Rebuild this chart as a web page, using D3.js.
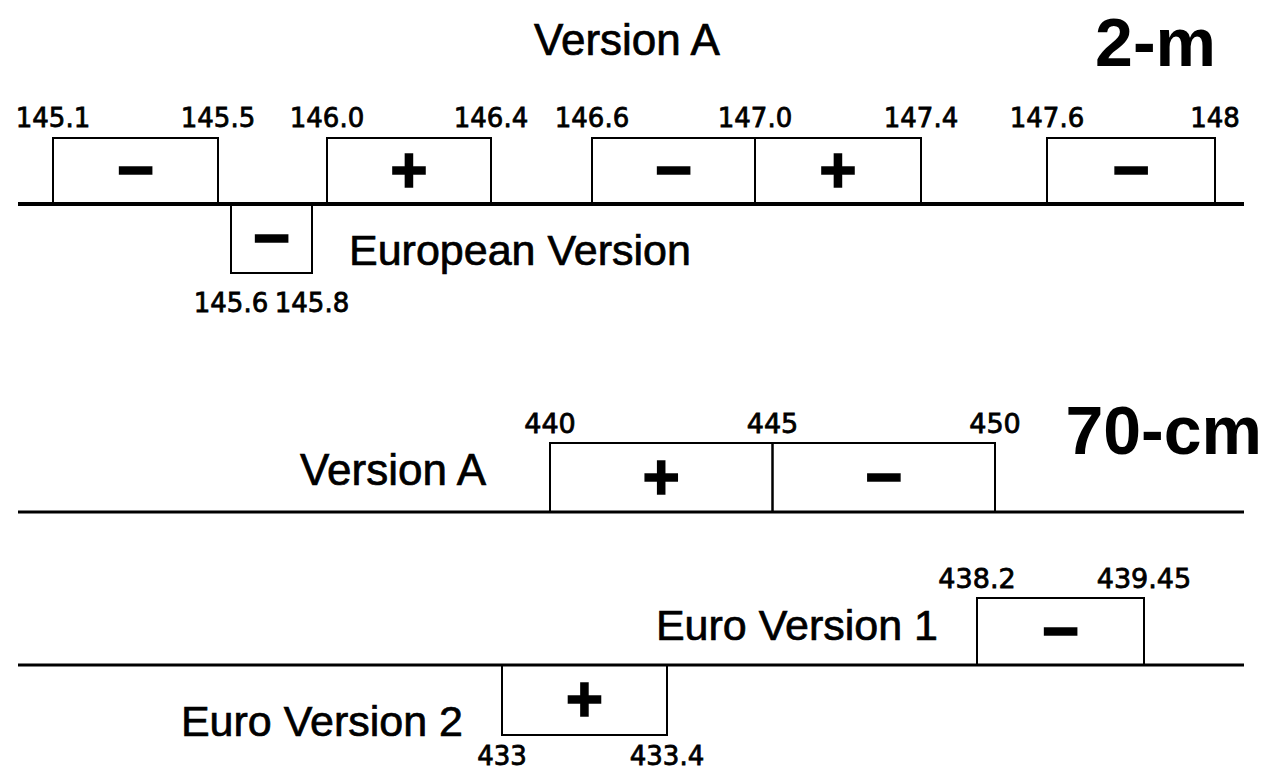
<!DOCTYPE html>
<html>
<head>
<meta charset="utf-8">
<script src="https://cdn.jsdelivr.net/npm/d3@7"></script>
<style>
  html, body { margin: 0; padding: 0; background: #fff; }
  svg { display: block; }
</style>
</head>
<body>
<svg id="chart" width="1269" height="774"></svg>
<script>
// ---------------- DATA ----------------
// 2-m band (MHz)
const band2mTitle = "2-m";
const rowA2mLabel = "Version A";
const rowA2mSegments = [
  { from: 145.1, to: 145.5, sign: "\u2212" },
  { from: 146.0, to: 146.4, sign: "+" },
  { from: 146.6, to: 147.0, sign: "\u2212" },
  { from: 147.0, to: 147.4, sign: "+" },
  { from: 147.6, to: 148.0, sign: "\u2212" }
];
const rowA2mTicks = ["145.1", "145.5", "146.0", "146.4", "146.6", "147.0", "147.4", "147.6", "148"];
const rowEu2mLabel = "European Version";
const rowEu2mSegments = [ { from: 145.6, to: 145.8, sign: "\u2212" } ];
const rowEu2mTicks = ["145.6", "145.8"];

// 70-cm band (MHz)
const band70Title = "70-cm";
const rowA70Label = "Version A";
const rowA70Segments = [
  { from: 440, to: 445, sign: "+" },
  { from: 445, to: 450, sign: "\u2212" }
];
const rowA70Ticks = ["440", "445", "450"];
const rowE1Label = "Euro Version 1";
const rowE1Segments = [ { from: 438.2, to: 439.45, sign: "\u2212" } ];
const rowE1Ticks = ["438.2", "439.45"];
const rowE2Label = "Euro Version 2";
const rowE2Segments = [ { from: 433, to: 433.4, sign: "+" } ];
const rowE2Ticks = ["433", "433.4"];

// ---------------- LAYOUT ----------------
const svg = d3.select("#chart");
const lineX0 = 18, lineX1 = 1244;
const sansFont = "'Liberation Sans', Arial, sans-serif";
const numFont = "'DejaVu Sans', sans-serif";

// schematic (piecewise) scales: frequency -> horizontal position
const x2m = d3.scaleLinear()
  .domain([145.1, 145.5, 145.6, 145.8, 146.0, 146.4, 146.6, 147.0, 147.4, 147.6, 148.0])
  .range([53, 218, 231, 312, 327, 491, 592, 755, 921, 1047, 1215]);
const xA70 = d3.scaleLinear().domain([440, 450]).range([550, 995]);
const xE170 = d3.scaleLinear().domain([438.2, 439.45]).range([977, 1144]);
const xE270 = d3.scaleLinear().domain([433, 433.4]).range([502, 667]);

function baseline(y, w) {
  svg.append("line")
    .attr("x1", lineX0).attr("x2", lineX1)
    .attr("y1", y).attr("y2", y)
    .attr("stroke", "#000").attr("stroke-width", w);
}

// draw boxes of a row; dir = -1 (above line) or +1 (below line)
function drawSegments(segs, scale, lineY, h, dir) {
  const g = svg.append("g");
  const top = d => dir < 0 ? lineY - h : lineY;
  g.selectAll("rect").data(segs).join("rect")
    .attr("x", d => scale(d.from))
    .attr("y", top)
    .attr("width", d => scale(d.to) - scale(d.from))
    .attr("height", h)
    .attr("fill", "none")
    .attr("stroke", "#000")
    .attr("stroke-width", 2);
  g.selectAll("text").data(segs).join("text")
    .attr("x", d => (scale(d.from) + scale(d.to)) / 2)
    .attr("y", d => top(d) + h / 2 + 21)
    .attr("text-anchor", "middle")
    .attr("font-family", sansFont)
    .attr("font-weight", "bold")
    .attr("font-size", 64)
    .attr("fill", "#000")
    .attr("stroke", "#000")
    .attr("stroke-width", 1.5)
    .text(d => d.sign);
}

function drawTicks(labels, scale, y, size) {
  svg.append("g").selectAll("text").data(labels).join("text")
    .attr("x", d => scale(+d))
    .attr("y", y)
    .attr("text-anchor", "middle")
    .attr("font-family", numFont)
    .attr("font-size", size)
    .attr("fill", "#000")
    .attr("stroke", "#000")
    .attr("stroke-width", 0.8)
    .text(d => d);
}

function label(txt, x, y, anchor, size, bold) {
  svg.append("text")
    .attr("x", x).attr("y", y)
    .attr("text-anchor", anchor)
    .attr("font-family", sansFont)
    .attr("font-size", size)
    .attr("font-weight", bold ? "bold" : "normal")
    .attr("fill", "#000")
    .attr("stroke", bold ? "none" : "#000")
    .attr("stroke-width", bold ? 0 : 0.7)
    .text(txt);
}

// ---------- 2-m ----------
const y2m = 204;
label(rowA2mLabel, 627, 55, "middle", 44, false);
label(band2mTitle, 1216, 66, "end", 68, true);
drawTicks(rowA2mTicks, x2m, 127, 26);
drawSegments(rowA2mSegments, x2m, y2m, 66, -1);
drawSegments(rowEu2mSegments, x2m, y2m, 69, +1);
baseline(y2m, 4);
label(rowEu2mLabel, 349, 265, "start", 43, false);
drawTicks(rowEu2mTicks, x2m, 312, 26);

// ---------- 70-cm ----------
const yA70 = 512;
label(rowA70Label, 486, 485, "end", 44, false);
label(band70Title, 1262, 454, "end", 68, true);
drawTicks(rowA70Ticks, xA70, 433, 27);
drawSegments(rowA70Segments, xA70, yA70, 69, -1);
baseline(yA70, 3);

const yE70 = 665;
label(rowE1Label, 938, 640, "end", 43, false);
drawTicks(rowE1Ticks, xE170, 588, 27);
drawSegments(rowE1Segments, xE170, yE70, 67, -1);
label(rowE2Label, 463, 736, "end", 43, false);
drawSegments(rowE2Segments, xE270, yE70, 70, +1);
drawTicks(rowE2Ticks, xE270, 765, 26);
baseline(yE70, 3);
</script>
</body>
</html>
